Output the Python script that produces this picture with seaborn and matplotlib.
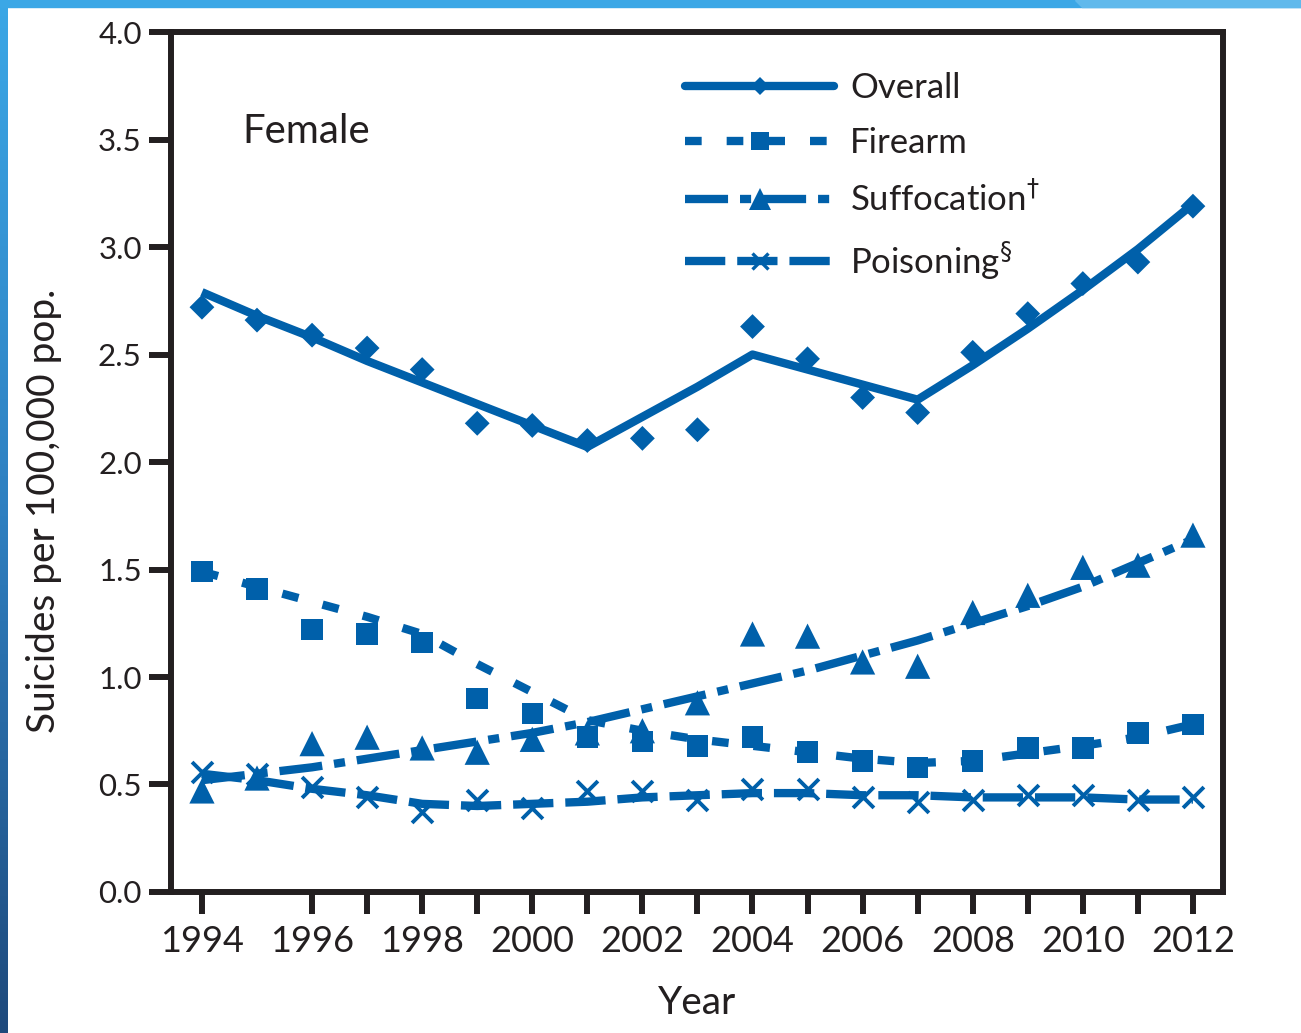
import numpy as np
import seaborn as sns
import matplotlib.pyplot as plt
from matplotlib.lines import Line2D
from matplotlib.patches import Rectangle, Polygon
from matplotlib.colors import LinearSegmentedColormap

# Female suicide rates per 100,000, by year and mechanism
years = list(range(1994, 2013))

# observed rates (markers)
overall_obs = [2.72, 2.66, 2.59, 2.53, 2.43, 2.18, 2.17, 2.10, 2.11, 2.15,
               2.63, 2.48, 2.30, 2.23, 2.51, 2.69, 2.83, 2.93, 3.19]
firearm_obs = [1.49, 1.41, 1.22, 1.20, 1.16, 0.90, 0.83, 0.72, 0.70, 0.68,
               0.72, 0.65, 0.61, 0.58, 0.61, 0.67, 0.67, 0.74, 0.78]
suffocation_obs = [0.47, 0.53, 0.69, 0.72, 0.67, 0.65, 0.71, 0.74, 0.75, 0.88,
                   1.20, 1.19, 1.07, 1.05, 1.30, 1.38, 1.51, 1.52, 1.66]
poisoning_obs = [0.56, 0.55, 0.49, 0.44, 0.37, 0.43, 0.39, 0.47, 0.47, 0.43,
                 0.48, 0.48, 0.44, 0.42, 0.43, 0.45, 0.45, 0.43, 0.44]

# fitted trends (lines)
overall_fit = [2.79, 2.68, 2.58, 2.47, 2.37, 2.27, 2.17, 2.07, 2.21, 2.35,
               2.50, 2.43, 2.36, 2.29, 2.45, 2.62, 2.80, 2.99, 3.20]
firearm_fit = [1.49, 1.42, 1.35, 1.28, 1.20, 1.06, 0.93, 0.80, 0.75, 0.71,
               0.68, 0.65, 0.62, 0.60, 0.61, 0.645, 0.68, 0.72, 0.78]
suffocation_fit = [0.52, 0.55, 0.58, 0.62, 0.66, 0.70, 0.74, 0.79, 0.85, 0.91,
                   0.97, 1.03, 1.10, 1.17, 1.25, 1.33, 1.42, 1.53, 1.64]
poisoning_fit = [0.55, 0.52, 0.48, 0.45, 0.41, 0.40, 0.41, 0.42, 0.44, 0.45,
                 0.46, 0.46, 0.45, 0.45, 0.44, 0.44, 0.44, 0.43, 0.43]

labels = ['Overall', 'Firearm', r'Suffocation$^{\dagger}$', r'Poisoning$^{\S}$']
y_ticks = [0.0, 0.5, 1.0, 1.5, 2.0, 2.5, 3.0, 3.5, 4.0]

sns.set_theme(style='ticks')
plt.rcParams['font.family'] = ['Lato', 'DejaVu Sans']
plt.rcParams['lines.scale_dashes'] = False

blue = '#0060AA'
ink = '#231F20'
lw = 6

styles = {
    'Overall': dict(ls='-', marker='D', s=160, ms=11),
    'Firearm': dict(ls=(0, (12, 18)), marker='s', s=240, ms=15),
    'Suffocation': dict(ls=(0, (31, 8.6, 8, 8.6)), marker='^', s=330, ms=18),
    'Poisoning': dict(ls=(0, (29, 8.6)), marker='x', s=225, ms=14),
}
series = [('Overall', overall_obs, overall_fit),
          ('Firearm', firearm_obs, firearm_fit),
          ('Suffocation', suffocation_obs, suffocation_fit),
          ('Poisoning', poisoning_obs, poisoning_fit)]

fig = plt.figure(figsize=(13.01, 10.33), dpi=100)
ax = fig.add_axes([0.1314, 0.1365, 0.8086, 0.8325])

handles = []
for name, obs, fit in series:
    st = styles[name]
    sns.lineplot(x=years, y=fit, ax=ax, color=blue, lw=lw, linestyle=st['ls'],
                 dash_capstyle='butt', solid_capstyle='butt', zorder=3)
    if st['marker'] == 'x':
        sns.scatterplot(x=years, y=obs, ax=ax, marker='x', s=st['s'],
                        color=blue, linewidth=2.8, zorder=4)
    else:
        sns.scatterplot(x=years, y=obs, ax=ax, marker=st['marker'], s=st['s'],
                        color=blue, edgecolor='none', linewidth=0, zorder=4)
    handles.append(Line2D([], [], color=blue, lw=lw, linestyle=st['ls'],
                          dash_capstyle='butt', marker=st['marker'],
                          ms=st['ms'] * 0.85, mew=2.4 if st['marker'] == 'x' else 0))

ax.set_xlim(1993.437, 2012.545)
ax.set_ylim(0, 4)

tick_years = [y for y in years if y != 1995]
ax.set_xticks(tick_years)
ax.set_xticklabels([str(y) if y % 2 == 0 else '' for y in tick_years])
ax.set_yticks(y_ticks)
ax.set_yticklabels([f'{v:.1f}' for v in y_ticks])

for side in ['left', 'right', 'top', 'bottom']:
    ax.spines[side].set_visible(True)
    ax.spines[side].set_linewidth(4.3)
    ax.spines[side].set_color(ink)

ax.tick_params(axis='x', direction='out', length=16, width=4.3, color=ink,
               labelsize=26, labelcolor=ink, pad=8)
ax.tick_params(axis='y', direction='out', length=16, width=4.3, color=ink,
               labelsize=22.5, labelcolor=ink, pad=5)

ax.set_xlabel('Year', fontsize=28, color=ink)
ax.set_ylabel('Suicides per 100,000 pop.', fontsize=28, color=ink)
ax.xaxis.set_label_coords(0.5, -0.108)
ax.yaxis.set_label_coords(-0.104, 0.443)

ax.text(0.0675, 0.871, 'Female', transform=ax.transAxes, fontsize=29,
        color=ink, ha='left', va='baseline')

leg = ax.legend(handles, labels, loc='upper left', bbox_to_anchor=(0.4886, 0.953),
                frameon=False, fontsize=25, handlelength=4.3, handletextpad=0.45,
                labelspacing=0.64, borderpad=0, borderaxespad=0, numpoints=1)
for t in leg.get_texts():
    t.set_color(ink)

# blue page border
fig.patches.append(Rectangle((0, 1 - 7 / 1033), 1, 7 / 1033, transform=fig.transFigure,
                             color='#3BA7E6', zorder=0))
fig.patches.append(Polygon([(1075 / 1301, 1), (1, 1), (1, 1 - 7 / 1033),
                            (1082 / 1301, 1 - 7 / 1033)], closed=True,
                           transform=fig.transFigure, color='#60B9EC', zorder=0))
bax = fig.add_axes([0, 0, 8 / 1301, 1])
grad = np.linspace(0, 1, 256).reshape(-1, 1)
cmap = LinearSegmentedColormap.from_list('edge', ['#3BA7E6', '#2E7FC0', '#1F4A7C'])
bax.imshow(grad, aspect='auto', cmap=cmap, extent=(0, 1, 0, 1), origin='upper')
bax.axis('off')

fig.savefig('out.png', dpi=100)
